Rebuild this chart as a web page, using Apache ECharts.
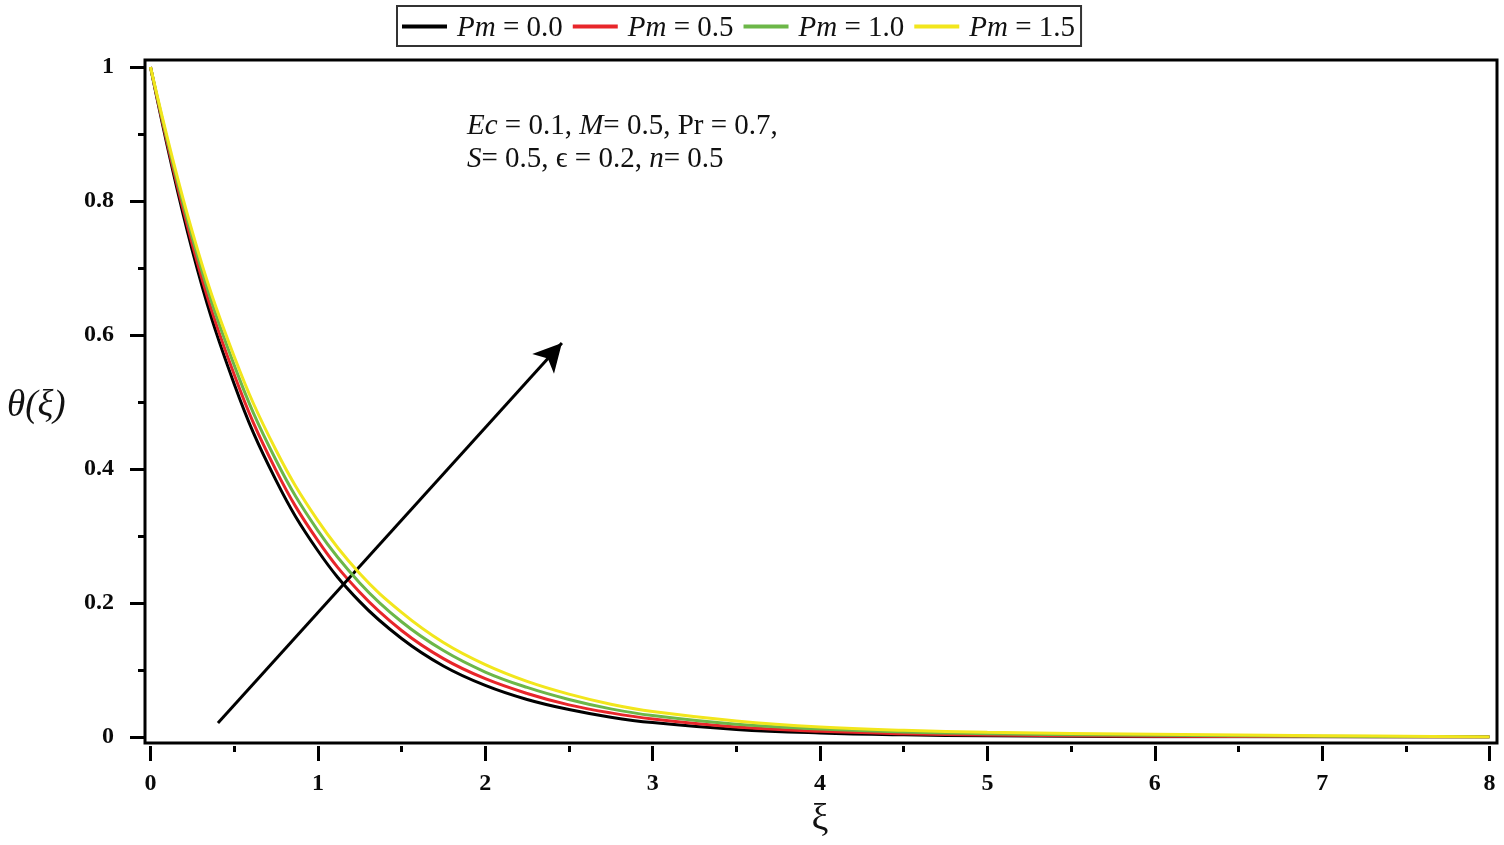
<!DOCTYPE html>
<html>
<head>
<meta charset="utf-8">
<script src="https://cdn.jsdelivr.net/npm/echarts@6/dist/echarts.min.js"></script>
<style>
  html, body { margin: 0; padding: 0; background: #fff; }
  #chart { width: 1504px; height: 845px; }
</style>
</head>
<body>
<div id="chart"></div>
<script>
// xi values (horizontal) and theta curves
const xi = [0, 0.25, 0.5, 0.75, 1, 1.25, 1.5, 1.75, 2, 2.25, 2.5, 2.75, 3, 3.5, 4, 4.5, 5, 6, 7, 8];
const thetaPm00 = [1, 0.726, 0.527, 0.383, 0.278, 0.202, 0.147, 0.106, 0.077, 0.056, 0.041, 0.0296, 0.0215, 0.0113, 0.006, 0.0032, 0.0017, 0.0005, 0.0002, 0];
const thetaPm05 = [1, 0.735, 0.541, 0.398, 0.293, 0.216, 0.159, 0.117, 0.087, 0.065, 0.048, 0.036, 0.027, 0.015, 0.0085, 0.005, 0.003, 0.0012, 0.0005, 0];
const thetaPm10 = [1, 0.745, 0.555, 0.413, 0.308, 0.230, 0.172, 0.129, 0.097, 0.074, 0.056, 0.042, 0.032, 0.019, 0.012, 0.0075, 0.005, 0.0025, 0.0012, 0];
const thetaPm15 = [1, 0.754, 0.568, 0.428, 0.323, 0.244, 0.186, 0.141, 0.108, 0.083, 0.064, 0.049, 0.038, 0.024, 0.015, 0.010, 0.007, 0.004, 0.002, 0];

const seriesNames = ['Pm = 0.0', 'Pm = 0.5', 'Pm = 1.0', 'Pm = 1.5'];
const seriesColors = ['#000000', '#e8262a', '#6cb748', '#f2e61c'];

const xTickLabels = ['0', '1', '2', '3', '4', '5', '6', '7', '8'];
const yTickLabels = ['0', '0.2', '0.4', '0.6', '0.8', '1'];

// arrow annotation (data coords): tail, head
const arrowTail = [0.403, 0.021];
const arrowHead = [2.458, 0.588];

const chart = echarts.init(document.getElementById('chart'));

const serif = "'Liberation Serif', 'DejaVu Serif', serif";
const curves = [thetaPm00, thetaPm05, thetaPm10, thetaPm15];

const series = curves.map((vals, k) => ({
  name: seriesNames[k],
  type: 'line',
  data: xi.map((x, i) => [x, vals[i]]),
  smooth: 0.4,
  showSymbol: false,
  lineStyle: { width: 3, color: seriesColors[k] },
  itemStyle: { color: seriesColors[k] },
  z: 3 + k
}));

series.push({
  type: 'line',
  data: [],
  silent: true,
  markLine: {
    silent: true,
    animation: false,
    symbol: ['none', 'arrow'],
    symbolSize: [22, 28],
    label: { show: false },
    lineStyle: { type: 'solid', width: 3, color: '#000' },
    data: [[{ coord: arrowTail }, { coord: arrowHead }]]
  },
  z: 10
});

const option = {
  animation: false,
  backgroundColor: '#fff',
  grid: { left: 150.5, right: 14.5, top: 67, bottom: 108 },
  legend: {
    data: seriesNames,
    left: 397,
    top: 6,
    padding: [3, 6, 2, 5],
    borderColor: '#333',
    borderWidth: 2,
    icon: 'rect',
    itemWidth: 45,
    itemHeight: 4,
    itemGap: 10,
    formatter: name => '{i|Pm}' + name.slice(2),
    textStyle: {
      fontFamily: serif,
      fontSize: 29,
      color: '#111',
      lineHeight: 31,
      padding: [4, 0, 0, 5],
      rich: {
        i: { fontFamily: serif, fontSize: 29, fontStyle: 'italic', color: '#111', lineHeight: 31 }
      }
    }
  },
  title: [
    {
      left: 462,
      top: 105,
      text: '{i|Ec} = 0.1, {i|M}= 0.5, Pr = 0.7,\n{i|S}= 0.5, ϵ = 0.2, {i|n}= 0.5',
      textStyle: {
        fontFamily: serif,
        fontSize: 29,
        fontWeight: 'normal',
        color: '#111',
        lineHeight: 33,
        rich: {
          i: { fontFamily: serif, fontSize: 29, fontStyle: 'italic', color: '#111', lineHeight: 33 }
        }
      }
    },
    {
      left: 2,
      top: 383,
      text: 'θ(ξ)',
      textStyle: { fontFamily: serif, fontSize: 37, fontStyle: 'italic', fontWeight: 'normal', color: '#111' }
    }
  ],
  xAxis: {
    type: 'value',
    min: 0,
    max: 8,
    interval: 1,
    offset: 9,
    name: 'ξ',
    nameLocation: 'middle',
    nameGap: 50,
    nameTextStyle: { fontFamily: serif, fontSize: 38, color: '#111' },
    axisLine: { show: false, onZero: false },
    axisTick: { show: true, length: 15, lineStyle: { width: 3, color: '#000' } },
    minorTick: { show: true, splitNumber: 2, length: 6, lineStyle: { width: 3, color: '#000' } },
    splitLine: { show: false },
    axisLabel: {
      margin: 26,
      fontFamily: serif,
      fontSize: 24,
      fontWeight: 'bold',
      color: '#0a0a0a',
      formatter: (v) => xTickLabels[Math.round(v)]
    }
  },
  yAxis: {
    type: 'value',
    min: 0,
    max: 1,
    interval: 0.2,
    offset: 5.5,
    axisLine: { show: false, onZero: false },
    axisTick: { show: true, length: 15, lineStyle: { width: 3, color: '#000' } },
    minorTick: { show: true, splitNumber: 2, length: 7, lineStyle: { width: 3, color: '#000' } },
    splitLine: { show: false },
    axisLabel: {
      margin: 31,
      fontFamily: serif,
      fontSize: 24,
      fontWeight: 'bold',
      color: '#0a0a0a',
      formatter: (v) => yTickLabels[Math.round(v * 5)]
    }
  },
  graphic: [
    {
      type: 'rect',
      shape: { x: 145, y: 60, width: 1352, height: 683 },
      style: { fill: 'none', stroke: '#000', lineWidth: 3 },
      silent: true,
      z: 100
    }
  ],
  series: series
};

chart.setOption(option);
</script>
</body>
</html>
